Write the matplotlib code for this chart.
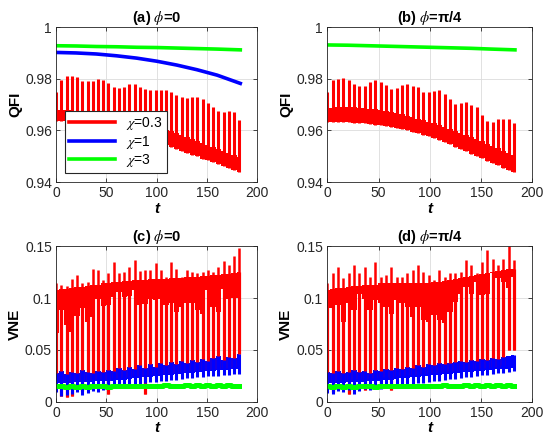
import numpy as np
import matplotlib.pyplot as plt
from matplotlib.lines import Line2D

plt.rcParams['font.family'] = ['Liberation Sans', 'DejaVu Sans']
plt.rcParams['mathtext.fontset'] = 'stix'

RED, BLUE, GREEN = '#ff0000', '#0000ff', '#00ff00'

# one sample per oscillation period (about 5.2 time units)
t_per = np.arange(36) * 5.2
# smooth curves
t_env = [0, 20, 40, 60, 80, 100, 120, 140, 160, 183]

# ---- QFI, phi = 0 ----
qfi_a_red_lo = [.9638, .9637, .9636, .9635, .9633, .9631, .9628, .9625, .9621, .9617,
                .9612, .9607, .9601, .9595, .9588, .9581, .9575, .9569, .9563, .9558,
                .9551, .9543, .9536, .9528, .9521, .9514, .9506, .9499, .9491, .9484,
                .9476, .9468, .9461, .9453, .9445, .9438]
qfi_a_red_hi = [.9680, .9679, .9679, .9679, .9677, .9676, .9674, .9672, .9669, .9666,
                .9662, .9658, .9654, .9649, .9643, .9638, .9633, .9628, .9623, .9618,
                .9611, .9603, .9596, .9588, .9581, .9574, .9566, .9559, .9551, .9544,
                .9536, .9528, .9521, .9513, .9505, .9497]
qfi_a_red_peak = [.975, .9795, .981, .981, .9805, .979, .979, .979, .9798, .9795,
                  .9785, .977, .9765, .977, .978, .978, .977, .976, .9755, .9755,
                  .9755, .9757, .975, .9737, .973, .9725, .9728, .973, .972, .9705,
                  .969, .9675, .9672, .9675, .967, .964]
qfi_a_blue = [.9902, .9900, .9896, .9889, .9880, .9868, .9853, .9835, .9814, .9782]
qfi_a_green = [.9928, .9927, .9925, .9924, .9922, .9921, .9919, .9917, .9915, .9912]

# ---- QFI, phi = pi/4 ----
qfi_b_red_lo = [.9634, .9634, .9633, .9633, .9632, .9630, .9629, .9627, .9625, .9622,
                .9619, .9616, .9613, .9609, .9605, .9600, .9595, .9590, .9584, .9577,
                .9570, .9562, .9554, .9546, .9537, .9528, .9519, .9510, .9501, .9492,
                .9483, .9474, .9465, .9456, .9447, .9438]
qfi_b_red_hi = [.9685, .9688, .9690, .9690, .9690, .9689, .9688, .9686, .9684, .9681,
                .9678, .9674, .9670, .9666, .9662, .9657, .9652, .9646, .9640, .9634,
                .9627, .9620, .9613, .9605, .9597, .9589, .9581, .9573, .9565, .9557,
                .9549, .9540, .9531, .9522, .9513, .9504]
qfi_b_red_peak = [.9748, .9794, .9800, .9804, .9797, .9780, .9772, .9772, .9787, .9794,
                  .9787, .9774, .9761, .9763, .9776, .9780, .9772, .9768, .9748, .9750,
                  .9754, .9757, .9742, .9723, .9703, .9705, .9709, .9700, .9690, .9658,
                  .9635, .9632, .9643, .9645, .9645, .9628]
qfi_b_green = [.9931, .9930, .9928, .9926, .9924, .9922, .9920, .9918, .9915, .9912]

# ---- VNE, phi = 0 ----
vne_c_red_up = [.1146, .1124, .1118, .118, .1226, .114, .1156, .128, .127, .117,
                .1236, .135, .1236, .125, .13, .137, .126, .1274, .127, .134,
                .127, .12, .135, .128, .12, .127, .125, .1236, .125, .1274,
                .125, .13, .136, .1316, .14, .1486]
vne_c_red_top = [.108, .109, .109, .110, .111, .111, .112, .113, .113, .114,
                 .114, .115, .115, .116, .116, .117, .117, .117, .118, .118,
                 .118, .118, .119, .119, .119, .120, .120, .120, .121, .121,
                 .122, .122, .123, .123, .124, .125]
vne_c_red_gap = [.066, .088, .074, .067, .083, .090, .077, .082, .0995, .092,
                 .093, .101, .106, .101, .102, .1075, .093, .094, .0995, .098,
                 .0995, .093, .095, .087, .0915, .095, .095, .088, .085, .1075,
                 .0915, .087, .109, .0995, .100, .100]
vne_c_red_lo = [.020, .006, .005, .006, .021, .010, .021, .021, .022, .022,
                .008, .023, .023, .024, .024, .025, .025, .008, .026, .026,
                .027, .027, .028, .028, .029, .029, .030, .030, .031, .031,
                .032, .032, .033, .033, .034, .0465]
vne_c_blue_hi = [.028, .030, .027, .029, .028, .031, .029, .028, .030, .029,
                 .031, .030, .033, .031, .034, .032, .035, .033, .036, .034,
                 .037, .035, .038, .036, .039, .037, .040, .038, .041, .039,
                 .042, .044, .040, .043, .042, .046]
vne_c_blue_lo = [.018, .018, .0185, .0185, .019, .019, .0195, .0195, .020, .020,
                 .0205, .0205, .021, .0215, .022, .0225, .023, .0235, .024, .0245,
                 .025, .0255, .026, .0265, .027, .0275, .028, .0285, .029, .0295,
                 .030, .0305, .031, .031, .0315, .032]
vne_c_blue_dip = [.009, .006, .0065, .008, .0095, .007, .0085, .010, .0095, .011,
                  .012, .0135, .013, .015, .016, .017, .0175, .018, .019, .019,
                  .020, .0205, .021, .0215, .022, .0225, .023, .0235, .024, .0245,
                  .025, .025, .0255, .026, .0265, .027]
vne_c_green = [.0148, .0152, .0145, .0153, .0147, .0155, .0146, .0154, .0148, .0155,
               .0147, .0156, .0149, .0155, .0148, .0157, .0150, .0156, .0149, .0157,
               .0150, .0158, .0151, .0157, .0150, .0158, .0151, .0159, .0151, .0158,
               .0150, .0159, .0152, .0158, .0151, .0153]

# ---- VNE, phi = pi/4 ----
vne_d_red_up = [.114, .1236, .13, .119, .1236, .1316, .1236, .13, .12, .135,
                .12, .122, .13, .12, .12, .1236, .1274, .1316, .125, .122,
                .117, .127, .12, .1236, .1236, .125, .1364, .1316, .1236, .135,
                .146, .138, .1316, .138, .15, .1364]
vne_d_red_top = [.108, .109, .110, .110, .111, .112, .112, .113, .113, .113,
                 .114, .114, .114, .114, .114, .114, .114, .114, .114, .114,
                 .115, .115, .116, .117, .118, .119, .120, .121, .122, .123,
                 .124, .125, .126, .127, .128, .128]
vne_d_red_gap = [.090, .090, .093, .077, .095, .088, .104, .0995, .088, .098,
                 .095, .0915, .085, .098, .095, .0915, .082, .0915, .0786, .077,
                 .0835, .0786, .0755, .087, .096, .104, .1107, .104, .1156, .1027,
                 .104, .1236, .119, .115, .110, .120]
vne_d_red_lo = [.020, .0095, .021, .021, .008, .022, .022, .011, .023, .023,
                .024, .024, .011, .025, .025, .026, .026, .027, .027, .028,
                .028, .029, .029, .030, .030, .031, .031, .032, .032, .033,
                .033, .034, .034, .035, .050, .050]
vne_d_blue_hi = [.029, .028, .030, .028, .029, .031, .029, .030, .028, .031,
                 .030, .032, .031, .033, .032, .034, .033, .035, .034, .036,
                 .035, .037, .036, .037, .038, .039, .038, .040, .039, .041,
                 .040, .042, .041, .043, .044, .045]
vne_d_blue_lo = [.018, .018, .0185, .0185, .019, .019, .0195, .0195, .020, .020,
                 .0205, .021, .0215, .022, .0225, .023, .0235, .024, .0245, .025,
                 .0255, .026, .0265, .027, .0275, .028, .0285, .029, .0295, .030,
                 .0305, .031, .0315, .032, .032, .0325]
vne_d_blue_dip = [.0085, .0075, .010, .009, .011, .008, .0105, .012, .011, .013,
                  .012, .014, .0135, .015, .016, .016, .017, .018, .0185, .019,
                  .020, .020, .021, .022, .022, .023, .024, .024, .025, .026,
                  .026, .027, .028, .028, .029, .030]
vne_d_green = [.0150, .0146, .0154, .0147, .0153, .0146, .0155, .0148, .0154, .0147,
               .0155, .0149, .0156, .0148, .0155, .0150, .0157, .0149, .0156, .0150,
               .0157, .0151, .0158, .0150, .0157, .0151, .0158, .0150, .0159, .0151,
               .0158, .0152, .0159, .0151, .0158, .0153]

legend_labels = [r'$\chi$=0.3', r'$\chi$=1', r'$\chi$=3']


def style(ax, ylim, yticks, yticklabels, ylabel, title):
    ax.set_xlim(0, 200)
    ax.set_ylim(*ylim)
    ax.set_xticks([0, 50, 100, 150, 200])
    ax.set_yticks(yticks)
    ax.set_yticklabels(yticklabels)
    ax.grid(True, color='#dcdcdc', lw=0.6)
    ax.set_axisbelow(True)
    ax.tick_params(direction='in', length=3, width=0.6, top=True, right=True,
                   labelsize=10, colors='#262626', pad=3)
    for s in ax.spines.values():
        s.set_color('#262626')
        s.set_linewidth(0.6)
    ax.set_xlabel('t', fontsize=11, fontweight='bold', fontstyle='italic', labelpad=1)
    ax.set_ylabel(ylabel, fontsize=11, fontweight='bold', labelpad=2)
    ax.set_title(title, fontsize=10.5, fontweight='bold', pad=4)


def qfi_red(ax, lo, hi, peak):
    ax.fill_between(t_per, lo, hi, step='mid', color=RED, lw=0)
    ax.vlines(t_per, lo, peak, color=RED, lw=2.2)


def vne_panel(ax, up, top, gap, lo, b_hi, b_lo, b_dip, green):
    ax.fill_between(t_per, gap, top, step='mid', color=RED, lw=0)
    ax.vlines(t_per, lo, top, color=RED, lw=2.3)
    ax.vlines(t_per, lo, up, color=RED, lw=1.8)
    ax.fill_between(t_per, b_lo, b_hi, step='mid', color=BLUE, lw=0)
    ax.vlines(t_per, b_dip, b_hi, color=BLUE, lw=2.2)
    ax.step(t_per, green, where='mid', color=GREEN, lw=3.6)


fig = plt.figure(figsize=(5.5, 4.45), dpi=100)
ax_a = fig.add_axes([0.102, 0.591, 0.366, 0.348])
ax_b = fig.add_axes([0.595, 0.591, 0.373, 0.348])
ax_c = fig.add_axes([0.102, 0.097, 0.366, 0.350])
ax_d = fig.add_axes([0.595, 0.097, 0.373, 0.350])

# (a)
qfi_red(ax_a, qfi_a_red_lo, qfi_a_red_hi, qfi_a_red_peak)
ax_a.plot(t_env, qfi_a_blue, color=BLUE, lw=2.6)
ax_a.plot(t_env, qfi_a_green, color=GREEN, lw=2.6)
style(ax_a, (0.94, 1.0), [0.94, 0.96, 0.98, 1.0], ['0.94', '0.96', '0.98', '1'],
      'QFI', r'(a) $\phi$=0')
handles = [Line2D([], [], color=c, lw=2.6) for c in (RED, BLUE, GREEN)]
leg = ax_a.legend(handles, legend_labels, loc='lower left', bbox_to_anchor=(0.045, 0.055),
                  fontsize=10, handlelength=3.3, handletextpad=0.8, borderpad=0.3,
                  labelspacing=0.12, borderaxespad=0, fancybox=False, framealpha=1)
leg.get_frame().set_edgecolor('#262626')
leg.get_frame().set_linewidth(0.8)

# (b)
qfi_red(ax_b, qfi_b_red_lo, qfi_b_red_hi, qfi_b_red_peak)
ax_b.plot(t_env, qfi_b_green, color=GREEN, lw=2.6)
style(ax_b, (0.94, 1.0), [0.94, 0.96, 0.98, 1.0], ['0.94', '0.96', '0.98', '1'],
      'QFI', r'(b) $\phi$=π/4')

# (c)
vne_panel(ax_c, vne_c_red_up, vne_c_red_top, vne_c_red_gap, vne_c_red_lo,
          vne_c_blue_hi, vne_c_blue_lo, vne_c_blue_dip, vne_c_green)
style(ax_c, (0, 0.15), [0, 0.05, 0.1, 0.15], ['0', '0.05', '0.1', '0.15'],
      'VNE', r'(c) $\phi$=0')

# (d)
vne_panel(ax_d, vne_d_red_up, vne_d_red_top, vne_d_red_gap, vne_d_red_lo,
          vne_d_blue_hi, vne_d_blue_lo, vne_d_blue_dip, vne_d_green)
style(ax_d, (0, 0.15), [0, 0.05, 0.1, 0.15], ['0', '0.05', '0.1', '0.15'],
      'VNE', r'(d) $\phi$=π/4')

fig.savefig('out.png', dpi=100)
